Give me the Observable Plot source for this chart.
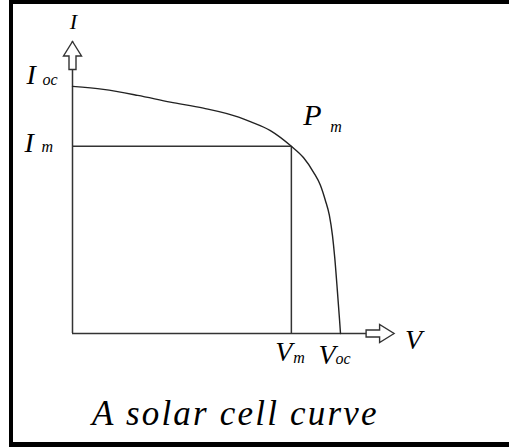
<!DOCTYPE html>
<html>
<head>
<meta charset="utf-8">
<script src="https://cdn.jsdelivr.net/npm/d3@7"></script>
<script src="https://cdn.jsdelivr.net/npm/@observablehq/plot@0.6"></script>
<style>
  html, body { margin: 0; padding: 0; background: #fff; }
  #wrap { position: relative; width: 509px; height: 447px; overflow: hidden; }
  #wrap svg { display: block; }
  #border { position: absolute; left: 9px; top: 0; width: 600px; height: 447px; box-sizing: border-box;
    border-top: 4px solid #000; border-left: 4px solid #000; border-bottom: 5px solid #000; pointer-events: none; }
  #caption { position: absolute; left: 92px; top: 396px; margin: 0; font-family: serif;
    font-style: italic; font-size: 35px; line-height: 1; letter-spacing: 2.2px; color: #000; white-space: nowrap; }
</style>
</head>
<body>
<div id="wrap"><div id="border"></div><p id="caption">A solar cell curve</p></div>
<script>
// I-V curve of a solar cell (voltage V, current I)
const curveV = [0, 0.069, 0.146, 0.219, 0.293, 0.372, 0.398, 0.443, 0.490, 0.517, 0.540, 0.555, 0.566, 0.575, 0.582, 0.587, 0.593, 0.598, 0.600];
const curveI = [3.30, 3.26, 3.18, 3.09, 3.01, 2.89, 2.83, 2.71, 2.50, 2.35, 2.15, 1.98, 1.78, 1.58, 1.31, 1.02, 0.57, 0.17, 0];
const Voc = 0.600, Vm = 0.490, Ioc = 3.30, Im = 2.50;
const Vmax = 0.72, Imax = 3.9;
const axisTitles = {x: "V", y: "I"};

const curve = curveV.map((v, i) => ({V: v, I: curveI[i]}));

const hollowArrow = {
  draw(ctx) {
    ctx.moveTo(0, 0);
    ctx.lineTo(9, 14.5);
    ctx.lineTo(3.5, 14.5);
    ctx.lineTo(3.5, 28);
    ctx.lineTo(-3.5, 28);
    ctx.lineTo(-3.5, 14.5);
    ctx.lineTo(-9, 14.5);
    ctx.closePath();
  }
};

const ink = "#333";
const labelFont = {fontFamily: "serif", fontStyle: "italic", fill: "#000", lineAnchor: "bottom", textAnchor: "start"};
const mainSize = 28, subSize = 16;

const chart = Plot.plot({
  width: 509,
  height: 447,
  margin: 0,
  style: "font-family: serif;",
  x: {domain: [0, Vmax], range: [72, 393.6], axis: null},
  y: {domain: [0, Imax], range: [333, 41], axis: null},
  marks: [
    Plot.ruleX([0], {y1: 0, y2: Imax, stroke: ink, strokeWidth: 1.5}),
    Plot.ruleY([0], {x1: 0, x2: Vmax, stroke: ink, strokeWidth: 1.5}),
    Plot.ruleY([Im], {x1: 0, x2: Vm, stroke: ink, strokeWidth: 1.5}),
    Plot.ruleX([Vm], {y1: 0, y2: Im, stroke: ink, strokeWidth: 1.5}),
    Plot.line(curve, {x: "V", y: "I", curve: "monotone-x", stroke: "#222", strokeWidth: 1.4}),
    Plot.dot([{V: 0, I: Imax, r: 0}], {x: "V", y: "I", symbol: hollowArrow, fill: "#fff", stroke: ink, strokeWidth: 1.4}),
    Plot.dot([{V: Vmax, I: 0, r: 90}], {x: "V", y: "I", symbol: hollowArrow, rotate: "r", fill: "#fff", stroke: ink, strokeWidth: 1.4}),
    Plot.text([axisTitles.y], {x: () => 0, y: () => Imax, text: d => d, ...labelFont, textAnchor: "middle", fontSize: 22, dx: 1, dy: -13}),
    Plot.text([axisTitles.x], {x: () => Vmax, y: () => 0, text: d => d, ...labelFont, fontSize: mainSize, dx: 11, dy: 15}),
    Plot.text(["I"], {x: () => 0, y: () => Ioc, text: d => d, ...labelFont, fontSize: mainSize, dx: -46, dy: -2}),
    Plot.text(["oc"], {x: () => 0, y: () => Ioc, text: d => d, ...labelFont, fontSize: subSize, dx: -30, dy: -1}),
    Plot.text(["I"], {x: () => 0, y: () => Im, text: d => d, ...labelFont, fontSize: mainSize, dx: -48, dy: 6}),
    Plot.text(["m"], {x: () => 0, y: () => Im, text: d => d, ...labelFont, fontSize: subSize, dx: -31, dy: 6}),
    Plot.text(["P"], {x: () => Vm, y: () => Im, text: d => d, ...labelFont, fontSize: 30, dx: 12, dy: -21}),
    Plot.text(["m"], {x: () => Vm, y: () => Im, text: d => d, ...labelFont, fontSize: subSize, dx: 39, dy: -14}),
    Plot.text(["V"], {x: () => Vm, y: () => 0, text: d => d, ...labelFont, fontSize: mainSize, dx: -16, dy: 27}),
    Plot.text(["m"], {x: () => Vm, y: () => 0, text: d => d, ...labelFont, fontSize: subSize, dx: 2, dy: 29}),
    Plot.text(["V"], {x: () => Voc, y: () => 0, text: d => d, ...labelFont, fontSize: mainSize, dx: -22, dy: 30}),
    Plot.text(["oc"], {x: () => Voc, y: () => 0, text: d => d, ...labelFont, fontSize: subSize, dx: -5, dy: 30})
  ]
});
document.getElementById("wrap").prepend(chart);
</script>
</body>
</html>
